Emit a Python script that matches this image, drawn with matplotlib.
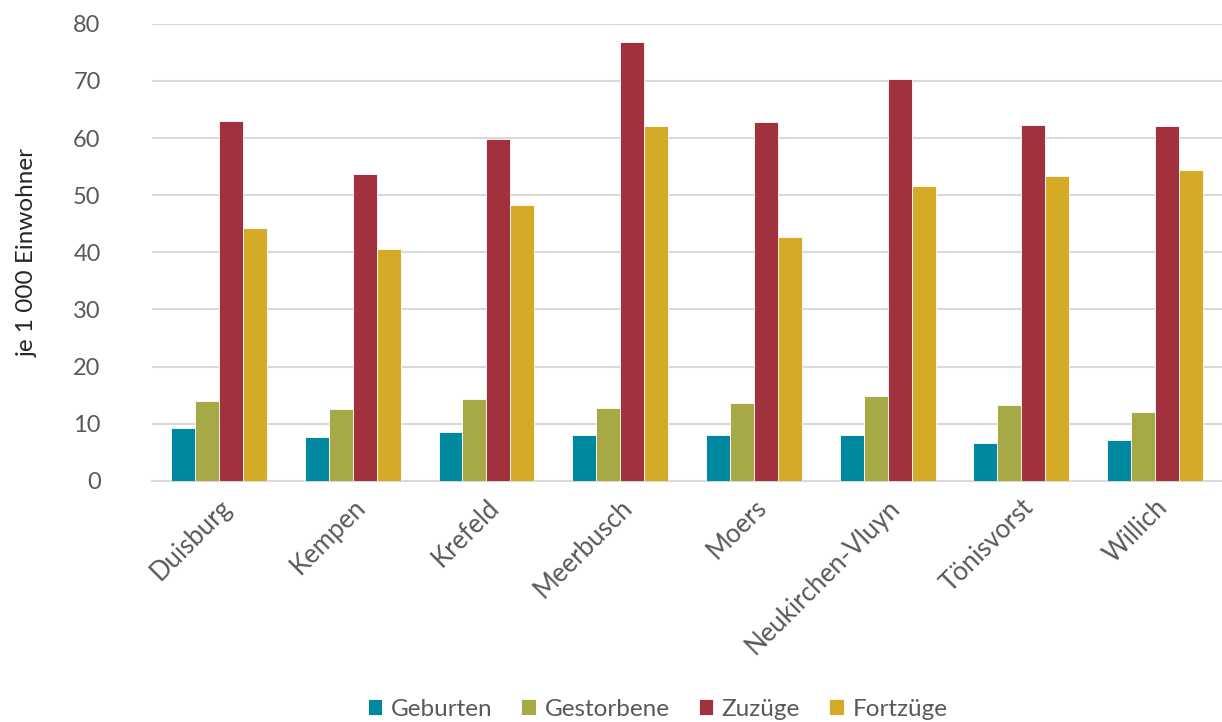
import matplotlib.pyplot as plt
import numpy as np

plt.rcParams['font.family'] = ['Lato', 'DejaVu Sans']

orte = ['Duisburg', 'Kempen', 'Krefeld', 'Meerbusch', 'Moers',
        'Neukirchen-Vluyn', 'Tönisvorst', 'Willich']
geburten = [9.2, 7.7, 8.5, 8.0, 8.0, 8.1, 6.6, 7.1]
gestorbene = [14.0, 12.5, 14.3, 12.7, 13.6, 14.8, 13.3, 12.0]
zuzuege = [63.0, 53.7, 59.9, 76.9, 62.8, 70.4, 62.3, 62.1]
fortzuege = [44.2, 40.6, 48.3, 62.1, 42.7, 51.6, 53.4, 54.4]

serien = ['Geburten', 'Gestorbene', 'Zuzüge', 'Fortzüge']
farben = ['#00889E', '#A6A945', '#A0313D', '#D4AA27']
werte = [geburten, gestorbene, zuzuege, fortzuege]

fig = plt.figure(figsize=(12.22, 7.22), dpi=100)
ax = fig.add_axes([0.1244, 0.334, 0.8756, 0.633])

x = np.arange(len(orte))
w = 0.179
for i, (name, vals, col) in enumerate(zip(serien, werte, farben)):
    ax.bar(x + (i - 1.5) * w, vals, w, color=col, label=name,
           edgecolor='white', linewidth=0.6, zorder=3)

ax.set_xlim(-0.5, len(orte) - 0.5)
ax.set_ylim(0, 80)
ax.set_yticks(range(0, 81, 10))
ax.yaxis.grid(True, color='#D9D9D9', linewidth=1.5, zorder=0)
ax.set_axisbelow(True)
for s in ['top', 'right', 'left']:
    ax.spines[s].set_visible(False)
ax.spines['bottom'].set_color('#D9D9D9')
ax.spines['bottom'].set_linewidth(1.5)
ax.tick_params(length=0, labelsize=17, labelcolor='#595959')
ax.tick_params(axis='y', pad=37)
ax.set_xticks(x)
ax.set_xticklabels(orte, rotation=45, ha='right', rotation_mode='anchor',
                   fontsize=18.5)
ax.tick_params(axis='x', pad=10)
ax.set_ylabel('je 1 000 Einwohner', fontsize=17.5, color='#262626', labelpad=25)

fig.legend(loc='lower center', ncol=4, frameon=False, fontsize=17.5,
           bbox_to_anchor=(0.538, -0.027), handlelength=0.6, handleheight=0.6,
           handletextpad=0.35, columnspacing=1.2, labelcolor='#595959')

fig.savefig('out.png', dpi=100)
